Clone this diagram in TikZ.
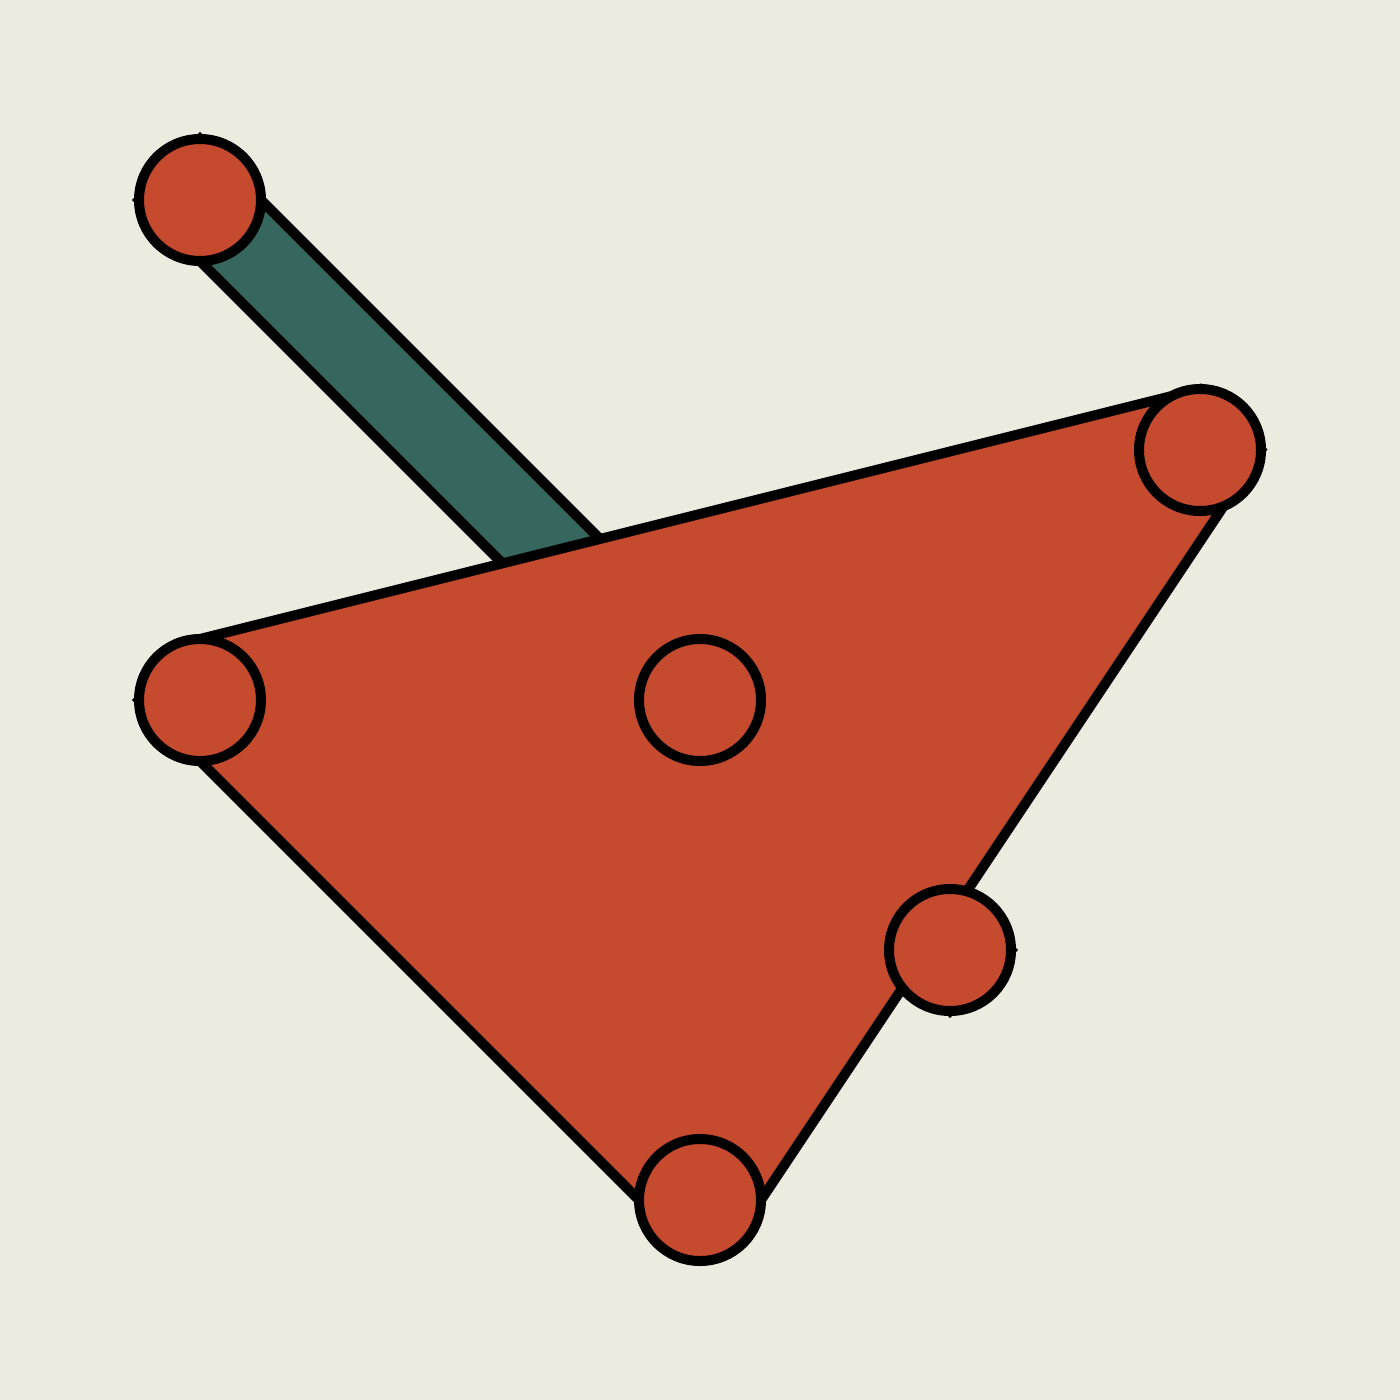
\documentclass[tikz,border=0pt]{standalone}
\definecolor{bg}{RGB}{235,235,223}
\definecolor{nodered}{RGB}{198,75,46}
\definecolor{teal}{RGB}{54,103,94}
\begin{document}
\begin{tikzpicture}[x=1pt,y=-1pt,
  anch/.style={circle,inner sep=0pt,outer sep=0pt,minimum size=122pt},
  dot/.style={circle,draw=black,fill=nodered,line width=10pt,inner sep=0pt,outer sep=0pt,minimum size=122pt},
  hull/.style={draw=black,line width=10pt,line join=miter}]
\useasboundingbox[fill=bg] (0,0) rectangle (1400,1400);
% anchor skeleton nodes
\path node[anch] (a) at (200,200) {}
      node[anch] (l) at (200,700) {}
      node[anch] (r) at (1200,450) {}
      node[anch] (c) at (700,700) {}
      node[anch] (d) at (950,950) {}
      node[anch] (b) at (700,1200) {};
% green hull joining a and c
\draw[hull,fill=teal] (a.north) -- (a.east) -- (c.east) -- (c.south) -- (a.south) -- (a.west) -- cycle;
% hull joining c and d (mostly hidden)
\draw[hull,fill=nodered] (c.north) -- (c.east) -- (d.east) -- (d.south) -- (d.west) -- (c.south) -- (c.west) -- cycle;
% red hull joining l, r, b
\draw[hull,fill=nodered] (l.west) -- (l.north) -- (r.north) -- (r.east) -- (b.east) -- (b.west) -- (l.south) -- cycle;
% visible circles
\node[dot] (a2) at (a) {};
\node[dot] (l2) at (l) {};
\node[dot] (r2) at (r) {};
\node[dot] (c2) at (c) {};
\node[dot] (d2) at (d) {};
\node[dot] (b2) at (b) {};
\end{tikzpicture}
\end{document}
